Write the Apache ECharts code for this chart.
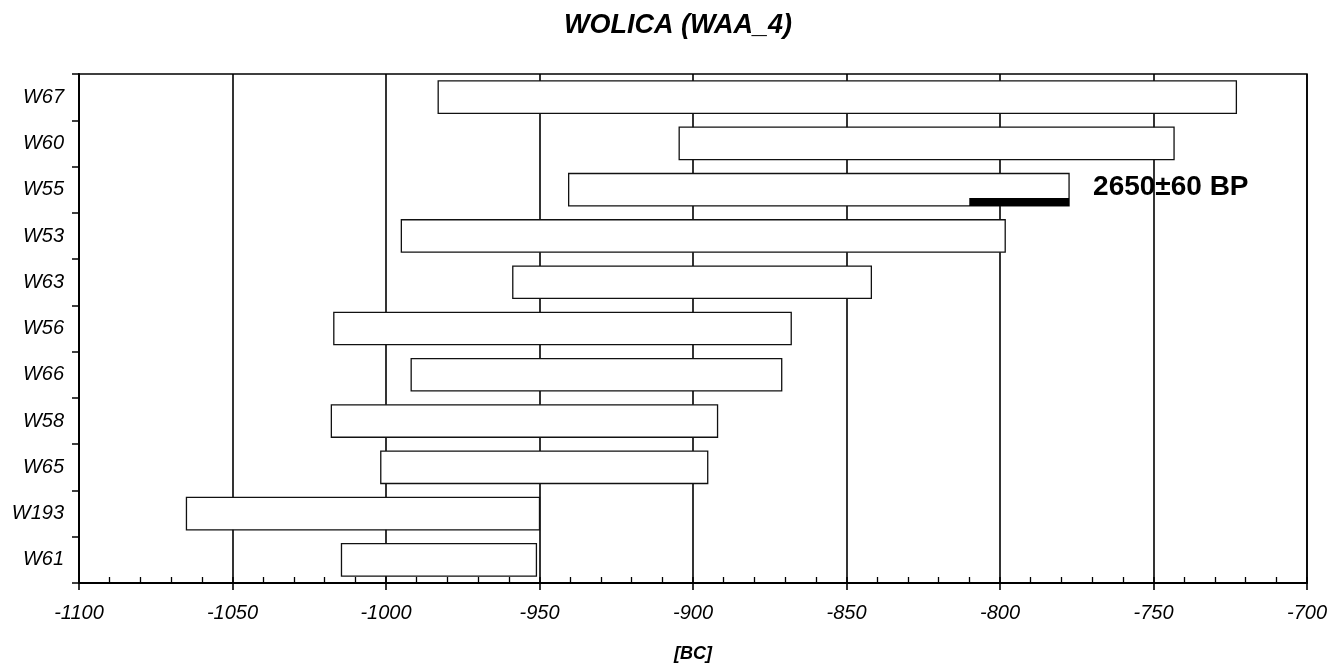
<!DOCTYPE html>
<html>
<head>
<meta charset="utf-8">
<script src="https://cdn.jsdelivr.net/npm/echarts@6/dist/echarts.min.js"></script>
<style>
html,body{margin:0;padding:0;background:#fff;}
#main{width:1330px;height:669px;}
</style>
</head>
<body>
<div id="main"></div>
<script>
/*------------数据---------*/
var samples = ['W67', 'W60', 'W55', 'W53', 'W63', 'W56', 'W66', 'W58', 'W65', 'W193', 'W61'];
var rangeStart = [-983, -904.5, -940.5, -995, -958.7, -1017, -991.8, -1017.8, -1001.7, -1065, -1014.5];
var rangeEnd = [-723, -743.3, -777.5, -798.3, -841.9, -868, -871.1, -892, -895.2, -950, -951];
// 14C 日期区间 (W55)
var dateSample = 'W55';
var dateStart = -810;
var dateEnd = -777.5;
var dateLabel = '2650±60 BP';
var xTicks = { min: -1100, max: -700, interval: 50 };

var FONT = "'Liberation Sans', Arial, sans-serif";

var rangeData = samples.map(function (s, i) {
	return [i, rangeStart[i], rangeEnd[i]];
});
var dateData = [[samples.indexOf(dateSample), dateStart, dateEnd, dateLabel]];

function renderRange(params, api) {
	var cat = api.value(0);
	var p0 = api.coord([api.value(1), cat]);
	var p1 = api.coord([api.value(2), cat]);
	var h = api.size([0, 1])[1] * 0.7;
	return {
		type: 'rect',
		shape: { x: p0[0], y: p0[1] - h / 2, width: p1[0] - p0[0], height: h },
		style: { fill: '#fff', stroke: '#111', lineWidth: 1.3 }
	};
}

function renderDate(params, api) {
	var cat = api.value(0);
	var p0 = api.coord([api.value(1), cat]);
	var p1 = api.coord([api.value(2), cat]);
	var h = api.size([0, 1])[1] * 0.7;
	var bottom = p0[1] + h / 2;
	return {
		type: 'group',
		children: [{
			type: 'rect',
			shape: { x: p0[0], y: bottom - 8, width: p1[0] - p0[0], height: 8 },
			style: { fill: '#000' }
		}, {
			type: 'text',
			x: p1[0] + 24,
			y: p0[1] - 2,
			style: {
				text: api.value(3),
				fill: '#000',
				font: 'bold 28px ' + FONT,
				verticalAlign: 'middle'
			}
		}]
	};
}

/*------------echarts设置---------*/
echarts.init(document.getElementById('main')).setOption({
	backgroundColor: '#fff',
	animation: false,
	title: {
		text: 'WOLICA (WAA_4)',
		left: 673,
		textAlign: 'center',
		top: 7,
		textStyle: { fontFamily: FONT, fontSize: 27, fontWeight: 'bold', fontStyle: 'italic', color: '#000' }
	},
	grid: {
		left: 79, right: 15, top: 74, bottom: 86,
		show: true, borderColor: '#000', borderWidth: 1.5
	},
	xAxis: [{
		type: 'value',
		min: xTicks.min, max: xTicks.max, interval: xTicks.interval,
		name: '[BC]',
		nameLocation: 'middle',
		nameGap: 62,
		nameTextStyle: { fontFamily: FONT, fontSize: 18, fontWeight: 'bold', fontStyle: 'italic', color: '#000' },
		axisLine: { show: true, lineStyle: { color: '#000', width: 1.8 } },
		axisTick: { show: true, inside: true, length: 6, lineStyle: { color: '#000', width: 1.5 } },
		minorTick: { show: true, splitNumber: 5, length: 6, lineStyle: { color: '#000', width: 1.3 } },
		axisLabel: {
			fontFamily: FONT, fontSize: 20, fontStyle: 'italic', color: '#000', margin: 20,
			formatter: function (v) { return String(v); }
		},
		splitLine: { show: true, lineStyle: { color: '#000', width: 1.6 } }
	}, {
		type: 'value',
		position: 'bottom',
		min: xTicks.min, max: xTicks.max, interval: xTicks.interval,
		axisLine: { show: false },
		axisTick: { show: true, length: 7, lineStyle: { color: '#000', width: 1.6 } },
		axisLabel: { show: false },
		splitLine: { show: false }
	}],
	yAxis: {
		type: 'category',
		inverse: true,
		data: samples,
		axisLine: { show: true, lineStyle: { color: '#000', width: 1.8 } },
		axisTick: { show: true, length: 7, lineStyle: { color: '#000', width: 1.5 } },
		axisLabel: { fontFamily: FONT, fontSize: 20, fontStyle: 'italic', color: '#000', margin: 15 },
		splitLine: { show: false }
	},
	series: [{
		type: 'custom',
		name: 'range',
		renderItem: renderRange,
		encode: { x: [1, 2], y: 0 },
		data: rangeData,
		z: 3
	}, {
		type: 'custom',
		name: 'date',
		renderItem: renderDate,
		encode: { x: [1, 2], y: 0 },
		data: dateData,
		z: 4
	}]
});
</script>
</body>
</html>
